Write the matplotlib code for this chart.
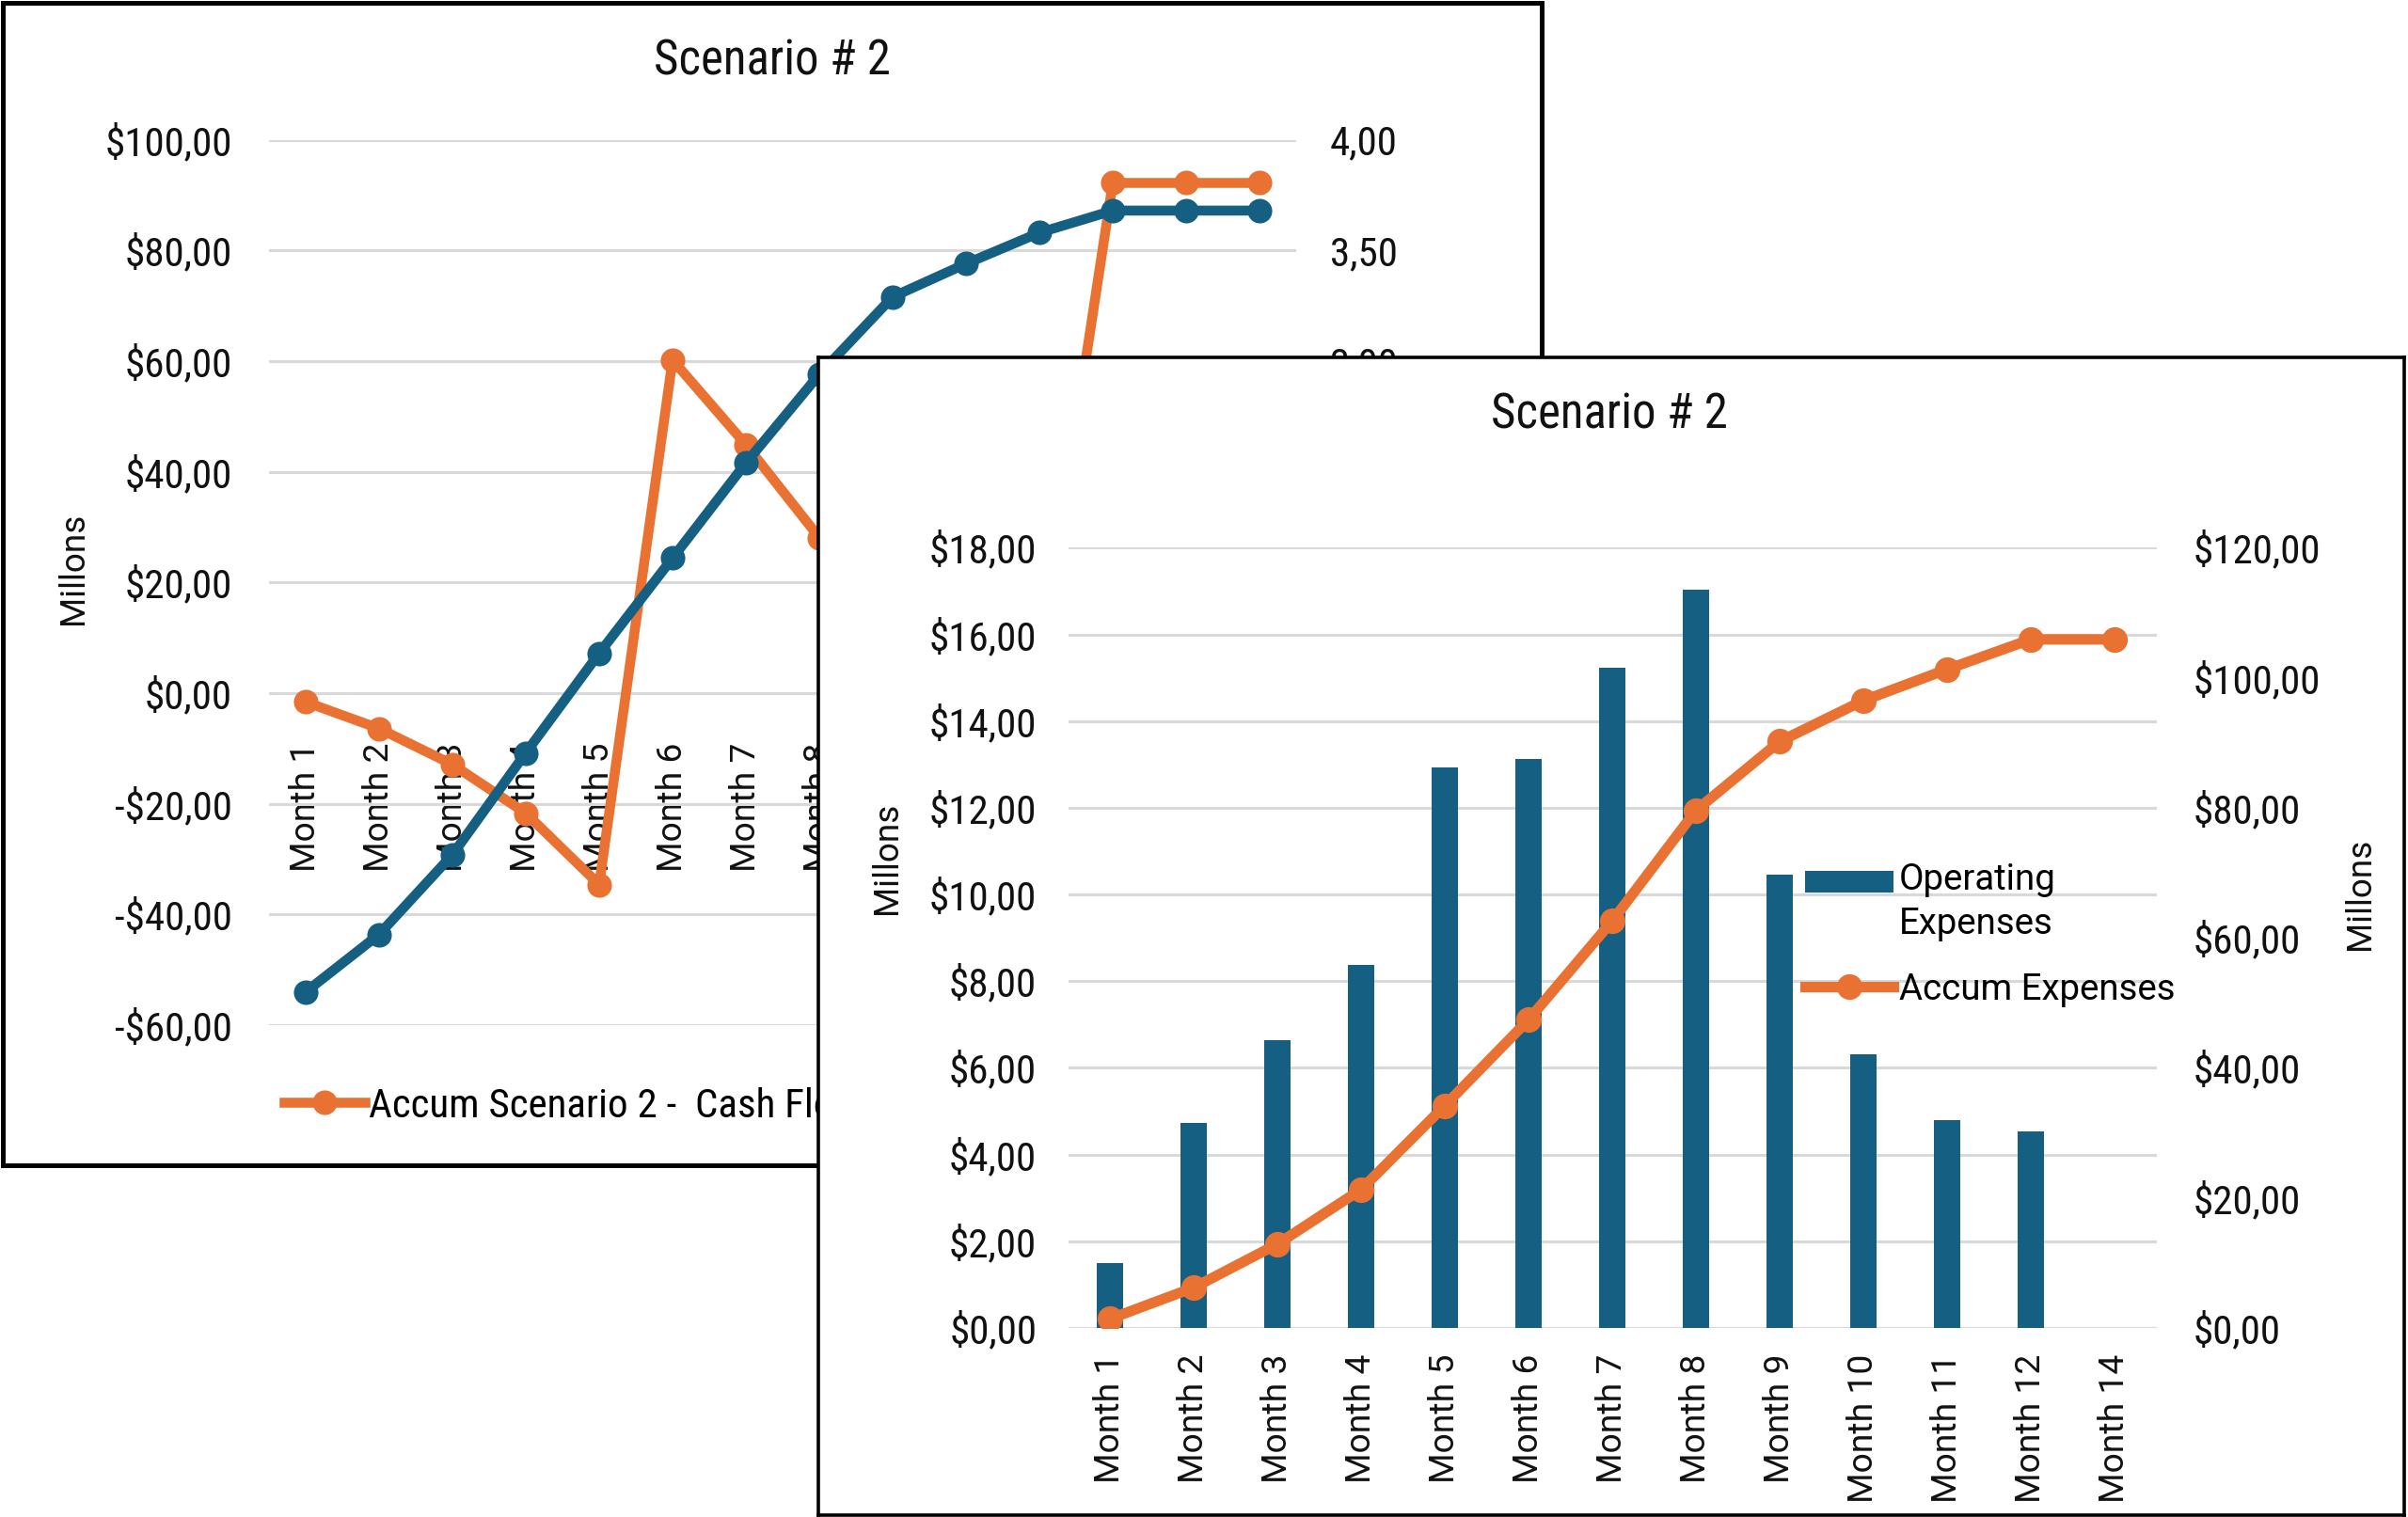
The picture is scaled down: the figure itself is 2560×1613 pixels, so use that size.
import numpy as np
import matplotlib
matplotlib.use("Agg")
import matplotlib.pyplot as plt
from matplotlib import font_manager
from matplotlib.patches import Rectangle
from matplotlib.container import BarContainer
from matplotlib.legend_handler import HandlerPatch, update_from_first_child
from matplotlib.ticker import FuncFormatter, MultipleLocator

# ---------------- data ----------------
# back chart (partly hidden)
back_months = ["Month %d" % i for i in range(1, 15)]
accum_cash_flow = [-1.6, -6.4, -12.9, -21.7, -34.6, 60.2, 44.9, 28.1, 16.0, 9.0, 5.3, 92.2, 92.2, 92.2]
blue_series = [0.15, 0.41, 0.77, 1.23, 1.68, 2.11, 2.54, 2.94, 3.29, 3.44, 3.58, 3.68, 3.68, 3.68]

# front chart
front_months = ["Month 1", "Month 2", "Month 3", "Month 4", "Month 5", "Month 6", "Month 7",
                "Month 8", "Month 9", "Month 10", "Month 11", "Month 12", "Month 14"]
operating_expenses = [1.50, 4.73, 6.63, 8.37, 12.94, 13.13, 15.24, 17.03, 10.46, 6.32, 4.80, 4.54, 0.0]
accum_expenses = [1.4, 6.2, 12.9, 21.3, 34.2, 47.4, 62.6, 79.6, 90.2, 96.5, 101.3, 105.9, 105.9]

BLUE = "#156082"
ORANGE = "#E97132"
GRID = "#D9D9D9"

# ---------------- fonts ----------------
names = {f.name for f in font_manager.fontManager.ttflist}
def pick(cands):
    for c in cands:
        if c in names:
            return c
    return "DejaVu Sans"
NARROW = pick(["Liberation Sans Narrow", "Roboto Condensed", "Open Sans Condensed", "DejaVu Sans Condensed", "Liberation Sans"])
REGULAR = pick(["Roboto", "Inter", "Open Sans", "DejaVu Sans"])
plt.rcParams["font.family"] = [NARROW, "DejaVu Sans"]

W, H = 2560, 1613
fig = plt.figure(figsize=(W / 200, H / 200), dpi=200)

def box(l, t, r, b):
    return [l / W, 1 - b / H, (r - l) / W, (b - t) / H]

def fxy(x, y):
    return (x / W, 1 - y / H)

def money(v, pos):
    s = "$%.2f" % abs(v)
    s = s.replace(".", ",")
    return ("-" + s) if v < 0 else s

def dec(v, pos):
    return ("%.2f" % v).replace(".", ",")

TICK_FS = 15.5
TITLE_FS = 18.3
MONTH_FS = 13.4
TXT = "#111111"

def style_axes(ax):
    for sp in ax.spines.values():
        sp.set_visible(False)
    ax.tick_params(length=0, labelsize=TICK_FS, colors=TXT)
    ax.set_facecolor("none")

# ---------------- back panel ----------------
pan1 = fig.add_axes(box(2.5, 2.5, 1639, 1239))
pan1.set_xticks([]); pan1.set_yticks([])
for sp in pan1.spines.values():
    sp.set_linewidth(1.8); sp.set_color("black")
pan1.set_zorder(0)

ax1 = fig.add_axes(box(286, 148.6, 1378, 1090))
ax1.set_zorder(1)
style_axes(ax1)
x1 = np.arange(len(back_months))
ax1.plot(x1, accum_cash_flow, color=ORANGE, lw=3.8, marker="o", ms=8.4, zorder=3,
         label="Accum Scenario 2 -  Cash Flow")
ax1.set_xlim(-0.5, len(back_months) - 0.5)
ax1.set_ylim(-60, 100)
ax1.yaxis.set_major_locator(MultipleLocator(20))
ax1.yaxis.set_major_formatter(FuncFormatter(money))
ax1.grid(axis="y", color=GRID, lw=1.1)
ax1.set_axisbelow(False)
ax1.spines["bottom"].set_position(("data", 0))
ax1.set_xticks(x1)
ax1.set_xticklabels(back_months, rotation=90, fontfamily=[REGULAR, "DejaVu Sans"], fontsize=MONTH_FS)
ax1.tick_params(axis="x", pad=19)
ax1.tick_params(axis="y", pad=14)

ax1r = ax1.twinx()
ax1r.set_zorder(2)
style_axes(ax1r)
ax1r.plot(x1, blue_series, color=BLUE, lw=3.8, marker="o", ms=8.4)
ax1r.set_ylim(0, 4)
ax1r.yaxis.set_major_locator(MultipleLocator(0.5))
ax1r.yaxis.set_major_formatter(FuncFormatter(dec))
ax1r.tick_params(axis="y", pad=13)

pan1.text(*fxy(821, 65), "Scenario # 2", transform=fig.transFigure, ha="center", va="center",
          fontsize=TITLE_FS, color=TXT)
pan1.text(*fxy(78, 604), "Millons", transform=fig.transFigure, ha="center", va="center",
          rotation=90, fontsize=13.3, fontfamily=[REGULAR, "DejaVu Sans"], color=TXT)
h, l = ax1.get_legend_handles_labels()
ax1r.legend(h, l, loc="center left", bbox_to_anchor=fxy(302, 1176), bbox_transform=fig.transFigure,
            frameon=False, fontsize=15.5, handlelength=2.0, handletextpad=0.1, borderpad=0,
            borderaxespad=0)

# ---------------- front panel ----------------
pan2 = fig.add_axes(box(870, 380, 2556, 1611))
pan2.set_xticks([]); pan2.set_yticks([])
pan2.set_facecolor("white")
for sp in pan2.spines.values():
    sp.set_linewidth(1.3); sp.set_color("black")
pan2.set_zorder(5)

ax2 = fig.add_axes(box(1135.5, 582.4, 2292.5, 1412))
ax2.set_zorder(6)
style_axes(ax2)
x2 = np.arange(len(front_months))
bars = ax2.bar(x2, operating_expenses, width=0.31, color=BLUE, zorder=3, label="Operating\nExpenses")
ax2.set_xlim(-0.5, len(front_months) - 0.5)
ax2.set_ylim(0, 18)
ax2.yaxis.set_major_locator(MultipleLocator(2))
ax2.yaxis.set_major_formatter(FuncFormatter(money))
ax2.grid(axis="y", color=GRID, lw=1.1)
ax2.set_axisbelow(True)
ax2.set_xticks(x2)
ax2.set_xticklabels(front_months, rotation=90, fontfamily=[REGULAR, "DejaVu Sans"], fontsize=MONTH_FS)
ax2.tick_params(axis="x", pad=10)
ax2.tick_params(axis="y", pad=12)

ax2r = ax2.twinx()
ax2r.set_zorder(7)
style_axes(ax2r)
line2, = ax2r.plot(x2, accum_expenses, color=ORANGE, lw=4, marker="o", ms=8.8, label="Accum Expenses")
ax2r.set_ylim(0, 120)
ax2r.yaxis.set_major_locator(MultipleLocator(20))
ax2r.yaxis.set_major_formatter(FuncFormatter(money))
ax2r.tick_params(axis="y", pad=14)

pan2.text(*fxy(1711, 442), "Scenario # 2", transform=fig.transFigure, ha="center", va="center",
          fontsize=TITLE_FS, color=TXT)
pan2.text(*fxy(943, 912), "Millons", transform=fig.transFigure, ha="center", va="center",
          rotation=90, fontsize=13.3, fontfamily=[REGULAR, "DejaVu Sans"], color=TXT)
pan2.text(*fxy(2509, 950), "Millons", transform=fig.transFigure, ha="center", va="center",
          rotation=90, fontsize=13.3, fontfamily=[REGULAR, "DejaVu Sans"], color=TXT)

def bar_handle(legend, orig_handle, xdescent, ydescent, width, height, fontsize):
    # Excel puts the swatch next to the first line of a wrapped label
    return Rectangle((-xdescent, -ydescent + fontsize * 0.65), width, height * 0.85)

ax2r.legend([bars, line2], ["Operating\nExpenses", "Accum Expenses"], loc="upper left",
            bbox_to_anchor=fxy(1919, 917), bbox_transform=fig.transFigure, frameon=False,
            prop={"family": [REGULAR, "DejaVu Sans"], "size": 13.8},
            handlelength=2.45, handletextpad=0.15, borderpad=0, borderaxespad=0, labelspacing=0.85,
            handler_map={BarContainer: HandlerPatch(patch_func=bar_handle,
                                                    update_func=update_from_first_child)})
for t in ax2r.get_legend().get_texts():
    t.set_linespacing(1.35)

fig.savefig("out.png", dpi=200)
